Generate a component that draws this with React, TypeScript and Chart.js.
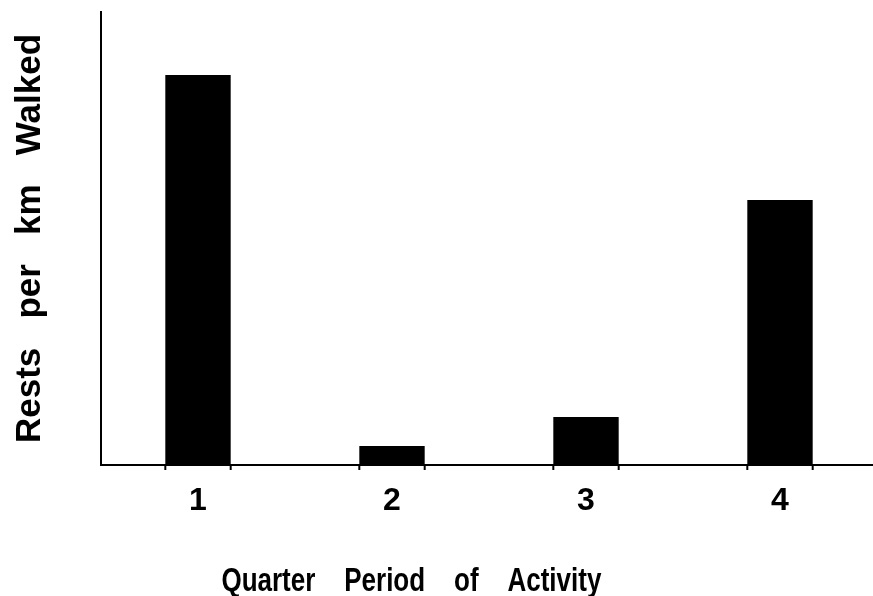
import React, { useEffect, useRef } from "react";
import { Chart, registerables } from "chart.js";

Chart.register(...registerables);

const categories = ["1", "2", "3", "4"];
const restsPerKm = [8.61, 0.42, 1.06, 5.85];
const yTitle = "Rests   per   km   Walked";
const xTitle = "Quarter    Period    of    Activity";

const xTitlePlugin = {
  id: "xTitlePlugin",
  afterDraw(chart: any) {
    const { ctx, chartArea } = chart;
    ctx.save();
    ctx.font = "bold 26px 'Liberation Sans', Arial, Helvetica, sans-serif";
    ctx.fillStyle = "#000";
    ctx.textAlign = "center";
    ctx.textBaseline = "alphabetic";
    const x = chartArea.left + (chartArea.right - chartArea.left) * 0.4;
    const y = chartArea.bottom + 126;
    ctx.translate(x, y);
    ctx.scale(1, 1.25);
    ctx.fillText(xTitle, 0, 0);
    ctx.restore();

    // small tick marks at the bar edges below the axis
    const meta = chart.getDatasetMeta(0);
    ctx.save();
    ctx.strokeStyle = "#000";
    ctx.lineWidth = 2;
    meta.data.forEach((bar: any) => {
      const half = bar.width / 2;
      [bar.x - half, bar.x + half].forEach((ex) => {
        ctx.beginPath();
        ctx.moveTo(ex, chartArea.bottom);
        ctx.lineTo(ex, chartArea.bottom + 5);
        ctx.stroke();
      });
    });
    ctx.restore();
  },
};

export default function App() {
  const ref = useRef<HTMLCanvasElement>(null);
  useEffect(() => {
    if (!ref.current) return;
    const chart = new Chart(ref.current, {
      type: "bar",
      data: {
        labels: categories,
        datasets: [
          {
            data: restsPerKm,
            backgroundColor: "#000",
            borderWidth: 0,
            categoryPercentage: 1,
            barPercentage: 0.337,
          },
        ],
      },
      options: {
        animation: false,
        responsive: false,
        devicePixelRatio: 1,
        layout: { padding: { top: 12, left: 0, right: 0, bottom: 0 } },
        plugins: { legend: { display: false }, tooltip: { enabled: false }, title: { display: false } },
        scales: {
          x: {
            grid: { display: false },
            border: { display: true, color: "#000", width: 2 },
            ticks: {
              color: "#000",
              padding: 12,
              font: { family: "'Liberation Sans', Arial, sans-serif", size: 32, weight: "bold", lineHeight: 1 },
            },
            afterFit: (scale: any) => {
              scale.height = 131;
            },
          },
          y: {
            min: 0,
            max: 10,
            grid: { display: false },
            border: { display: true, color: "#000", width: 2 },
            ticks: { display: false },
            title: {
              display: true,
              text: yTitle,
              color: "#000",
              padding: { top: 12.5, bottom: 0 },
              font: { family: "'Liberation Sans', Arial, sans-serif", size: 35, weight: "bold", lineHeight: 1 },
            },
            afterFit: (scale: any) => {
              scale.width = 101;
            },
          },
        },
      },
      plugins: [xTitlePlugin],
    });
    return () => chart.destroy();
  }, []);
  return (
    <div style={{ position: "fixed", left: 0, top: 0, width: 873, height: 596, overflow: "hidden", background: "#fff" }}>
      <canvas ref={ref} width={877} height={596} style={{ display: "block" }} />
    </div>
  );
}
